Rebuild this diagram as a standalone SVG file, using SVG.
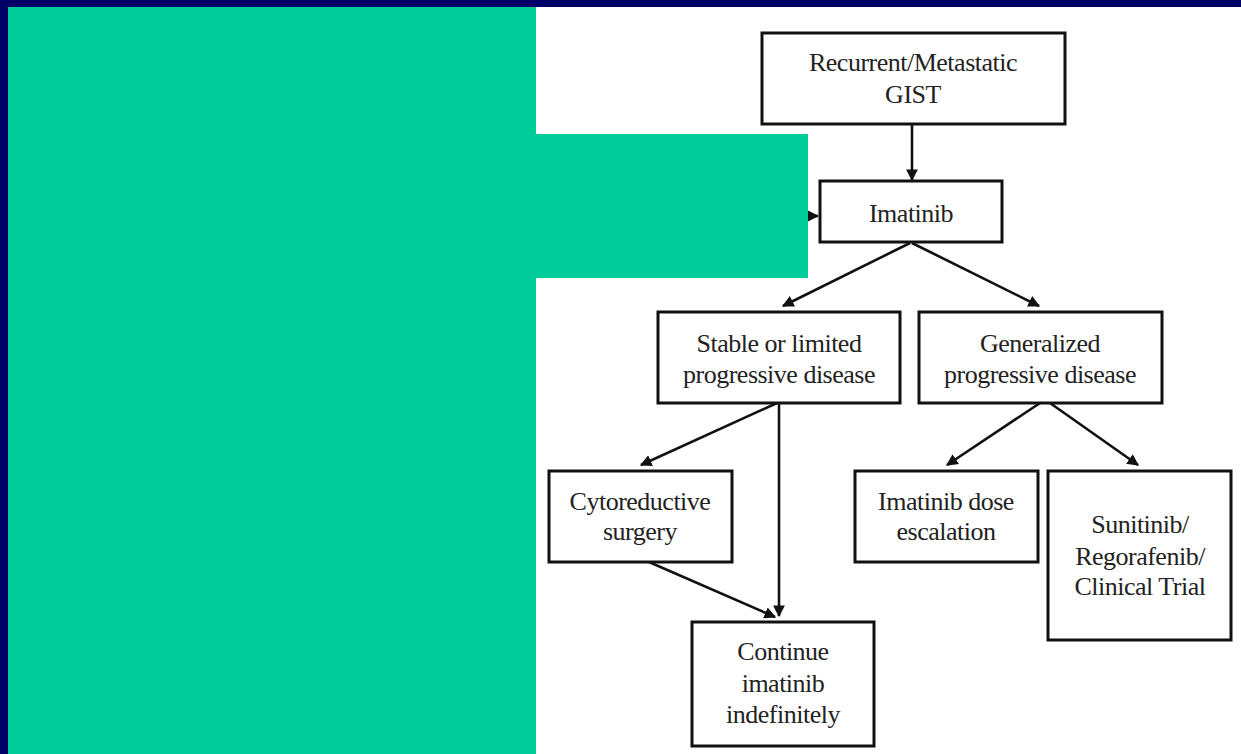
<svg xmlns="http://www.w3.org/2000/svg" width="1241" height="754" viewBox="0 0 1241 754">
<defs>
<style>
.box{fill:#fff;stroke:#111;stroke-width:3}
.t{font-family:"Liberation Serif","Times New Roman",serif;font-size:26px;letter-spacing:-0.5px;fill:#222;text-anchor:middle}
.c{stroke:#111;stroke-width:2.6;fill:none;marker-end:url(#ah)}
</style>
<marker id="ah" viewBox="0 0 10 10" refX="9" refY="5" markerWidth="4.5" markerHeight="4.5" orient="auto" markerUnits="strokeWidth">
<path d="M0,0 L10,5 L0,10 z" fill="#111"/>
</marker>
</defs>
<rect x="0" y="0" width="1241" height="754" fill="#fff"/>
<rect x="0" y="0" width="1241" height="7" fill="#000066"/>
<rect x="0" y="0" width="8" height="754" fill="#000066"/>
<g id="connectors">
<line class="c" x1="912" y1="124" x2="912" y2="180"/>
<line class="c" x1="800" y1="216" x2="818" y2="216"/>
<line class="c" x1="910" y1="243" x2="783" y2="306"/>
<line class="c" x1="912" y1="243" x2="1039" y2="306"/>
<line class="c" x1="777" y1="403" x2="641" y2="465"/>
<line class="c" x1="779" y1="403" x2="779" y2="616"/>
<line class="c" x1="649" y1="562" x2="775" y2="617"/>
<line class="c" x1="1040" y1="403" x2="947" y2="465"/>
<line class="c" x1="1050" y1="403" x2="1138" y2="465"/>
</g>
<rect x="8" y="7" width="528" height="747" fill="#00CC99"/>
<rect x="536" y="134" width="272" height="144" fill="#00CC99"/>
<g id="n-gist">
<rect class="box" x="762" y="33" width="303" height="91"/>
<text class="t" x="913" y="71">Recurrent/Metastatic</text>
<text class="t" x="913" y="103">GIST</text>
</g>
<g id="n-imatinib">
<rect class="box" x="820" y="181" width="182" height="61"/>
<text class="t" x="911" y="222">Imatinib</text>
</g>
<g id="n-stable">
<rect class="box" x="658" y="312" width="242" height="91"/>
<text class="t" x="779" y="352">Stable or limited</text>
<text class="t" x="779" y="383">progressive disease</text>
</g>
<g id="n-generalized">
<rect class="box" x="919" y="312" width="243" height="91"/>
<text class="t" x="1040" y="352">Generalized</text>
<text class="t" x="1040" y="383">progressive disease</text>
</g>
<g id="n-cyto">
<rect class="box" x="549" y="471" width="183" height="91"/>
<text class="t" x="640" y="510">Cytoreductive</text>
<text class="t" x="640" y="540">surgery</text>
</g>
<g id="n-dose">
<rect class="box" x="855" y="471" width="183" height="91"/>
<text class="t" x="946" y="510">Imatinib dose</text>
<text class="t" x="946" y="540">escalation</text>
</g>
<g id="n-suni">
<rect class="box" x="1048" y="471" width="183" height="169"/>
<text class="t" x="1140" y="533">Sunitinib/</text>
<text class="t" x="1140" y="565">Regorafenib/</text>
<text class="t" x="1140" y="595">Clinical Trial</text>
</g>
<g id="n-continue">
<rect class="box" x="692" y="622" width="182" height="124"/>
<text class="t" x="783" y="660">Continue</text>
<text class="t" x="783" y="692">imatinib</text>
<text class="t" x="783" y="723">indefinitely</text>
</g>
</svg>
